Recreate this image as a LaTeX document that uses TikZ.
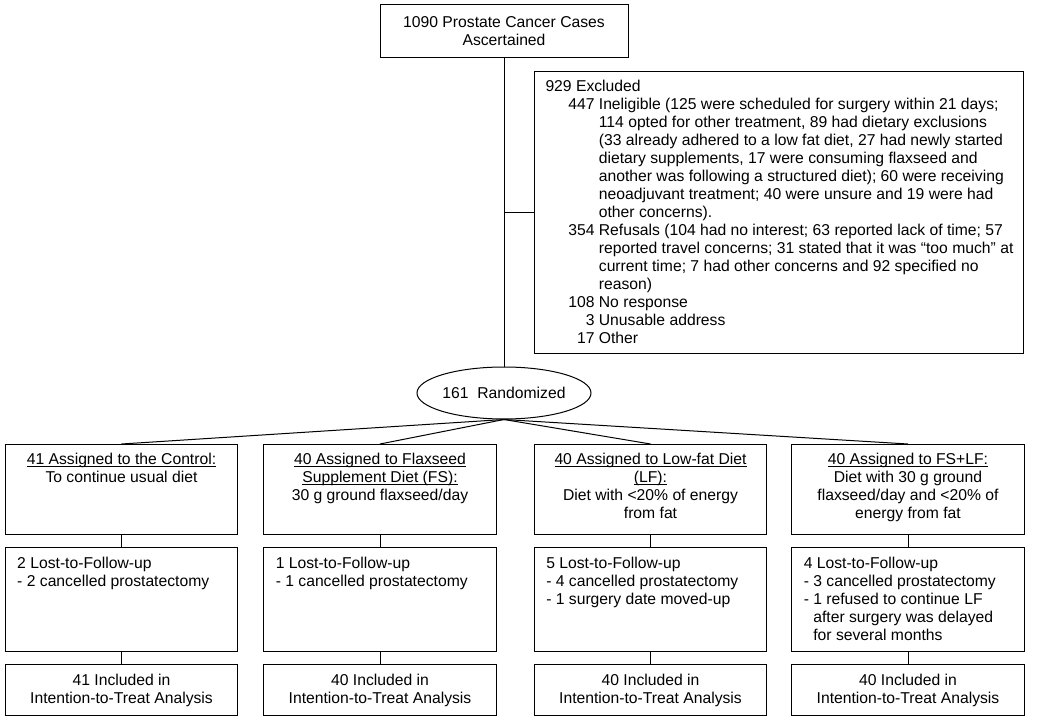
\documentclass[tikz,border=0pt]{standalone}
\usepackage{fontspec}
\setmainfont{Liberation Sans}
\usetikzlibrary{graphs}
\usetikzlibrary{shapes.geometric}

\tikzset{
  every node/.style={font=\fontsize{15.7}{18}\selectfont},
  frame/.style={draw, inner sep=0pt},
  itt/.style={draw, anchor=north, minimum width=232.5pt, minimum height=51pt, align=center}
}
\newcommand{\nr}[2]{\makebox[49pt][r]{#1}\hspace{4.4pt}#2}
\newcommand{\nx}[1]{\hspace*{53.4pt}#1}
\newcommand{\uln}[1]{\leavevmode\setbox0\hbox{#1}\rlap{\rule[-1.6pt]{\wd0}{0.8pt}}\box0}
\newcommand{\armcell}[1]{\parbox[c][90pt][t]{232.5pt}{\centering\vspace*{9pt}#1}}
\newcommand{\losscell}[1]{\parbox[c][104pt][t]{232.5pt}{\raggedright\leftskip=12pt\vspace*{10pt}#1}}

\begin{document}
\begin{tikzpicture}[x=1pt,y=-1pt,line width=1pt]
  \useasboundingbox (0,0) rectangle (1037,722);
  \node[frame, minimum width=248pt, minimum height=53pt, align=center] (cases) at (504,31.5)
    {1090 Prostate Cancer Cases\\Ascertained};
  \node[frame, anchor=north west] (excl) at (534,71) {\parbox[c][282pt][t]{489pt}{\raggedright\leftskip=11pt\vspace*{9pt}%
    929 Excluded\\
    \nr{447}{Ineligible (125 were scheduled for surgery within 21 days;}\\
    \nx{114 opted for other treatment, 89 had dietary exclusions}\\
    \nx{(33 already adhered to a low fat diet, 27 had newly started}\\
    \nx{dietary supplements, 17 were consuming flaxseed and}\\
    \nx{another was following a structured diet); 60 were receiving}\\
    \nx{neoadjuvant treatment; 40 were unsure and 19 were had}\\
    \nx{other concerns).}\\
    \nr{354}{Refusals (104 had no interest; 63 reported lack of time; 57}\\
    \nx{reported travel concerns; 31 stated that it was “too much” at}\\
    \nx{current time; 7 had other concerns and 92 specified no}\\
    \nx{reason)}\\
    \nr{108}{No response}\\
    \nr{3}{Unusable address}\\
    \nr{17}{Other}}};
  \node[draw, ellipse, inner sep=0pt, minimum width=169pt, minimum height=52pt] (rand) at (504,393)
    {161~~Randomized};
  \coordinate (br) at (cases.south |- excl.west);

  % arms
  \node[frame, anchor=north] (a1) at (121.5,444) {\armcell{\uln{41 Assigned to the Control:}\\To continue usual diet}};
  \node[frame, anchor=north] (a2) at (380,444) {\armcell{\uln{40 Assigned to Flaxseed}\\\uln{Supplement Diet (FS):}\\30 g ground flaxseed/day}};
  \node[frame, anchor=north] (a3) at (650.5,444) {\armcell{\uln{40 Assigned to Low-fat Diet}\\\uln{(LF):}\\Diet with <20\% of energy\\from fat}};
  \node[frame, anchor=north] (a4) at (908,444) {\armcell{\uln{40 Assigned to FS+LF:}\\Diet with 30 g ground\\flaxseed/day and <20\% of\\energy from fat}};

  \node[frame, anchor=north] (l1) at (121.5,547) {\losscell{2 Lost-to-Follow-up\\- 2 cancelled prostatectomy}};
  \node[frame, anchor=north] (l2) at (380,547) {\losscell{1 Lost-to-Follow-up\\- 1 cancelled prostatectomy}};
  \node[frame, anchor=north] (l3) at (650.5,547) {\losscell{5 Lost-to-Follow-up\\- 4 cancelled prostatectomy\\- 1 surgery date moved-up}};
  \node[frame, anchor=north] (l4) at (908,547) {\losscell{4 Lost-to-Follow-up\\- 3 cancelled prostatectomy\\- 1 refused to continue LF\\\phantom{- }after surgery was delayed\\\phantom{- }for several months}};

  \node[itt] (i1) at (121.5,664) {41 Included in\\Intention-to-Treat Analysis};
  \node[itt] (i2) at (380,664) {40 Included in\\Intention-to-Treat Analysis};
  \node[itt] (i3) at (650.5,664) {40 Included in\\Intention-to-Treat Analysis};
  \node[itt] (i4) at (908,664) {40 Included in\\Intention-to-Treat Analysis};

  \graph{(cases) -- (rand)};
  \graph{(br) -- (excl)};
  \draw (rand.south) -- (a1.north);
  \draw (rand.south) -- (a2.north);
  \draw (rand.south) -- (a3.north);
  \draw (rand.south) -- (a4.north);
  \graph{(a1) -- (l1) -- (i1)};
  \graph{(a2) -- (l2) -- (i2)};
  \graph{(a3) -- (l3) -- (i3)};
  \graph{(a4) -- (l4) -- (i4)};
\end{tikzpicture}
\end{document}
